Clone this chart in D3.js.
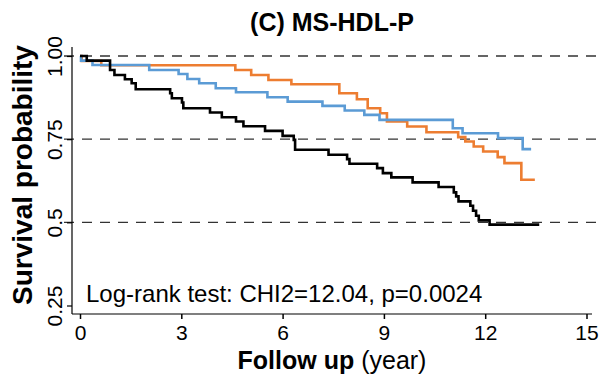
<!DOCTYPE html>
<html>
<head>
<meta charset="utf-8">
<script src="https://cdn.jsdelivr.net/npm/d3@7"></script>
<style>
  html, body { margin: 0; padding: 0; background: #fff; }
  svg { display: block; font-family: "Liberation Sans", Arial, Helvetica, sans-serif; }
</style>
</head>
<body>
<div id="chart"></div>
<script>
// ---- Data ----
const title = "(C) MS-HDL-P";
const xTicks = [0, 3, 6, 9, 12, 15];
const yTicks = [0.25, 0.5, 0.75, 1.0];
const yTickLabels = ["0.25", "0.5", "0.75", "1.00"];
const refLines = [0.5, 0.75, 1.0];
const statText = "Log-rank test: CHI2=12.04, p=0.0024";

const blackTimes = [0, 0.2, 0.89, 1.02, 1.33, 1.53, 1.65, 2.67, 2.72, 3.02, 3.06, 3.85, 4.2, 4.62, 4.84, 5.48, 6.0, 6.33, 6.37, 7.36, 7.91, 7.98, 8.8, 8.97, 9.22, 9.85, 10.62, 11.07, 11.14, 11.21, 11.56, 11.64, 11.73, 11.81, 12.13, 13.6];
const blackSurv  = [1, 0.986, 0.958, 0.943, 0.930, 0.918, 0.900, 0.888, 0.873, 0.860, 0.843, 0.830, 0.816, 0.803, 0.789, 0.775, 0.760, 0.748, 0.718, 0.703, 0.690, 0.676, 0.663, 0.648, 0.635, 0.620, 0.606, 0.590, 0.578, 0.563, 0.550, 0.535, 0.520, 0.506, 0.493, 0.493];

const orangeTimes = [0, 0.05, 0.63, 4.6, 5.07, 5.58, 6.26, 7.68, 8.2, 8.52, 8.89, 9.09, 9.69, 10.26, 11.2, 11.41, 11.66, 11.94, 12.37, 12.57, 13.07, 13.47];
const orangeSurv  = [1, 0.985, 0.972, 0.958, 0.943, 0.928, 0.915, 0.888, 0.870, 0.843, 0.828, 0.803, 0.788, 0.771, 0.756, 0.743, 0.728, 0.713, 0.696, 0.678, 0.628, 0.628];

const blueTimes = [0, 0.03, 0.37, 2.05, 2.92, 3.18, 3.53, 4.02, 4.62, 5.55, 6.15, 7.18, 7.84, 8.42, 8.87, 11.04, 11.33, 12.38, 13.11, 13.36];
const blueSurv  = [1, 0.986, 0.973, 0.958, 0.946, 0.931, 0.918, 0.903, 0.891, 0.876, 0.863, 0.850, 0.836, 0.823, 0.808, 0.783, 0.768, 0.753, 0.720, 0.720];

// ---- Layout ----
const W = 601, H = 380;
const svg = d3.select("#chart").append("svg").attr("width", W).attr("height", H);

const x = d3.scaleLinear().domain([0, 15]).range([80, 586.5]);
const y = d3.scaleLinear().domain([0.25, 1]).range([305.5, 56]);
const axisX = 72, axisY = 314;

// reference dashed lines
svg.selectAll("line.ref").data(refLines).enter().append("line")
  .attr("x1", 64).attr("x2", W)
  .attr("y1", d => y(d)).attr("y2", d => y(d))
  .attr("stroke", "#333").attr("stroke-width", 1.3)
  .attr("stroke-dasharray", "10,8");

// curves
const line = d3.line().x(d => x(d[0])).y(d => y(d[1])).curve(d3.curveStepAfter);
const series = [
  { t: orangeTimes, s: orangeSurv, color: "#ED7D31" },
  { t: blueTimes, s: blueSurv, color: "#5B9BD5" },
  { t: blackTimes, s: blackSurv, color: "#000000" }
];
series.forEach(sr => {
  const pts = sr.t.map((t, i) => [t, sr.s[i]]);
  svg.append("path").datum(pts).attr("d", line)
    .attr("fill", "none").attr("stroke", sr.color)
    .attr("stroke-width", 2.6).attr("stroke-linejoin", "miter");
});

// axes
const gx = svg.append("g").attr("transform", `translate(0,${axisY})`)
  .call(d3.axisBottom(x).tickValues(xTicks).tickSize(5).tickPadding(6).tickFormat(d3.format("d")));
gx.select(".domain").remove();
gx.selectAll(".tick line").attr("stroke", "#000").attr("stroke-width", 1.5);
gx.selectAll(".tick text").attr("font-size", 21).attr("fill", "#000")
  .attr("font-family", "Liberation Sans, Arial, sans-serif").attr("dy", "0.71em");

const gy = svg.append("g").attr("transform", `translate(${axisX},0)`)
  .call(d3.axisLeft(y).tickValues(yTicks).tickSize(5).tickFormat((d, i) => yTickLabels[i]));
gy.select(".domain").remove();
gy.selectAll(".tick line").attr("stroke", "#000").attr("stroke-width", 1.2);
gy.selectAll(".tick text").attr("font-size", 21).attr("fill", "#000")
  .attr("font-family", "Liberation Sans, Arial, sans-serif")
  .attr("x", 0).attr("dy", 0).attr("text-anchor", "middle")
  .attr("transform", "translate(-10,0) rotate(-90)");

// axis lines (L-shaped box)
svg.append("line").attr("x1", axisX).attr("x2", axisX).attr("y1", 47).attr("y2", axisY)
  .attr("stroke", "#000").attr("stroke-width", 1.2);
svg.append("line").attr("x1", axisX).attr("x2", 592).attr("y1", axisY).attr("y2", axisY)
  .attr("stroke", "#000").attr("stroke-width", 1.2);

// title
svg.append("text").attr("x", 332).attr("y", 31).attr("text-anchor", "middle")
  .attr("font-size", 25).attr("font-weight", "bold").text(title);

// y label
svg.append("text").attr("transform", "translate(32,175) rotate(-90)")
  .attr("text-anchor", "middle").attr("font-size", 28).attr("font-weight", "bold")
  .text("Survival probability");

// x label
const xl = svg.append("text").attr("x", 332).attr("y", 369).attr("text-anchor", "middle").attr("font-size", 25);
xl.append("tspan").attr("font-weight", "bold").text("Follow up");
xl.append("tspan").text(" (year)");

// stat text
svg.append("text").attr("x", 86).attr("y", 302).attr("font-size", 24).text(statText);
</script>
</body>
</html>
